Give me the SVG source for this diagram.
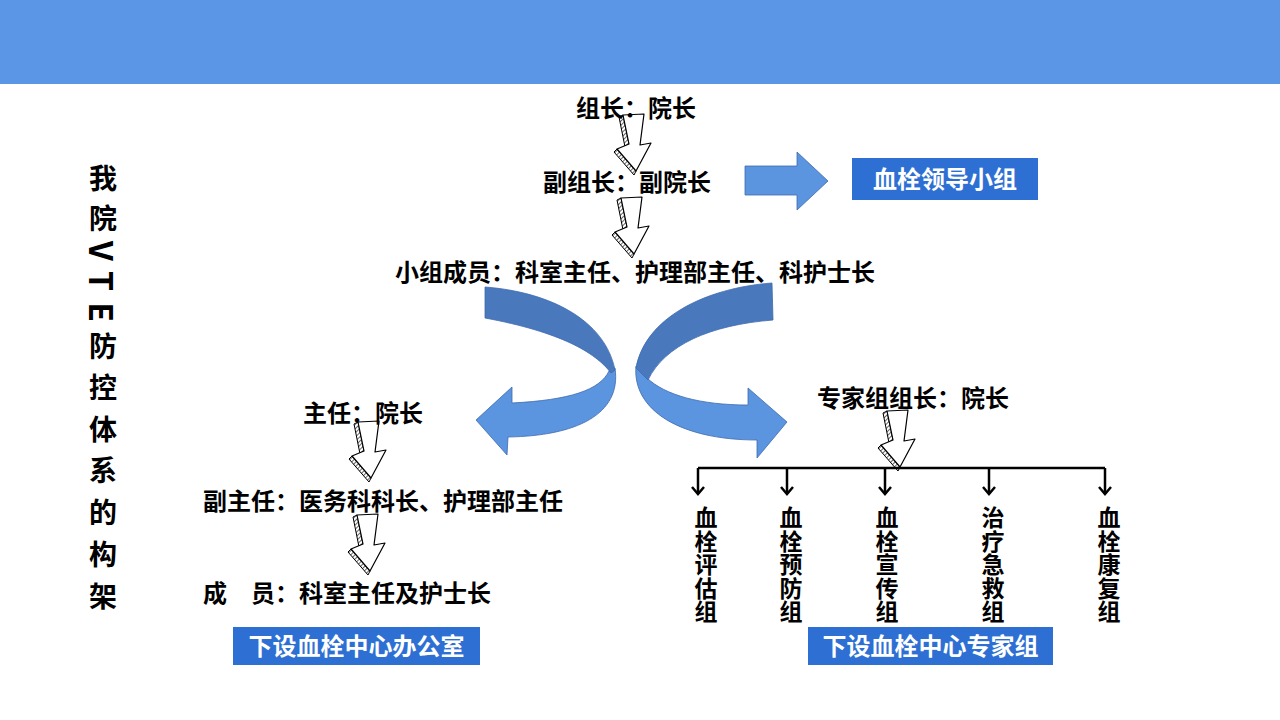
<svg xmlns="http://www.w3.org/2000/svg" width="1280" height="720" viewBox="0 0 1280 720">
<style>
.t{font-family:"Noto Sans CJK SC","Noto Sans",sans-serif;font-weight:700;font-size:24px;fill:#000}
.v{font-family:"Noto Sans CJK SC","Noto Sans",sans-serif;font-weight:700;font-size:23px;fill:#000}
.tt{font-family:"Noto Sans CJK SC","Noto Sans",sans-serif;font-weight:700;font-size:28px;fill:#000}
.tl{font-family:"Noto Sans CJK SC","Noto Sans",sans-serif;font-weight:700;font-size:32px;fill:#000}
.lbl{font-family:"Noto Sans CJK SC","Noto Sans",sans-serif;font-weight:700;font-size:24px;fill:#fff}
.box{fill:#2E6FD3}
.dark{fill:#4A78BC;stroke:#3E6AAE;stroke-width:0.8}
.light{fill:#5B94DF;stroke:#3E6AAE;stroke-width:0.8}
.conn{stroke:#000;stroke-width:2.5;fill:none}
</style>
<defs>
<pattern id="hatch" width="3" height="3" patternUnits="userSpaceOnUse" patternTransform="rotate(45)">
<rect width="3" height="3" fill="#fff"/><line x1="0" y1="0" x2="0" y2="3" stroke="#000" stroke-width="1.2"/>
</pattern>
<g id="harrow">
<path d="M0,1 L-4,3 L2,33 L6,30 Z" fill="url(#hatch)" stroke="#000" stroke-width="1"/>
<path d="M-6,35 L-9,38 L11,61 L13,57 Z" fill="url(#hatch)" stroke="#000" stroke-width="1"/>
<path d="M0,1 L21,0 L17,31 L28,29 L13,57 L-6,35 L6,30 Z" fill="#fff" stroke="#000" stroke-width="1.2" stroke-linejoin="round"/>
</g>
<marker id="chev" viewBox="-10 -8 12 16" markerWidth="12" markerHeight="16" refX="0" refY="0" orient="auto" markerUnits="userSpaceOnUse">
<path d="M-7,-6 L0,0 L-7,6" fill="none" stroke="#000" stroke-width="2.5"/>
</marker>
</defs>
<rect x="0" y="0" width="1280" height="720" fill="#fff"/>
<rect id="banner" x="0" y="0" width="1280" height="84" fill="#5B95E5"/>

<g id="title">
<text class="tt" x="103" y="189" text-anchor="middle">我</text>
<text class="tt" x="103" y="229" text-anchor="middle">院</text>
<text class="tl" transform="translate(103,251) rotate(90)" text-anchor="middle" dominant-baseline="central">V</text>
<text class="tl" transform="translate(103,281) rotate(90)" text-anchor="middle" dominant-baseline="central">T</text>
<text class="tl" transform="translate(103,312) rotate(90)" text-anchor="middle" dominant-baseline="central">E</text>
<text class="tt" x="103" y="357" text-anchor="middle">防</text>
<text class="tt" x="103" y="398" text-anchor="middle">控</text>
<text class="tt" x="103" y="440" text-anchor="middle">体</text>
<text class="tt" x="103" y="481" text-anchor="middle">系</text>
<text class="tt" x="103" y="523" text-anchor="middle">的</text>
<text class="tt" x="103" y="565" text-anchor="middle">构</text>
<text class="tt" x="103" y="607" text-anchor="middle">架</text>
</g>

<g id="connectors">
<use href="#harrow" x="623" y="114"/>
<use href="#harrow" x="621" y="197"/>
<use href="#harrow" x="358" y="421"/>
<use href="#harrow" x="357" y="514"/>
<use href="#harrow" x="887" y="410"/>
<path d="M745,166 L797,166 L797,152 L828,181 L797,210 L797,195 L745,195 Z" fill="#5B94DF" stroke="#3E6AAE" stroke-width="0.8"/>
<path class="light" d="M609,371 C600,390 570,400 512,403 L512,387 L476,420 L507,455 L508,437 C575,436 622,415 615,368 Z"/>
<path class="dark" d="M485,287 C550,292 605,320 615,370 L611,373 C595,352 560,332 485,318 Z"/>
<path class="light" d="M636,366 C632,410 680,440 757,440 L757,458 L787,422 L748,388 L748,405 C700,405 665,395 647,378 Z"/>
<path class="dark" d="M772,283 C705,288 645,318 636,368 L648,380 C665,345 710,325 773,320 Z"/>
<path class="conn" d="M698,468 L1105,468"/>
<path class="conn" d="M698,468 L698,494" marker-end="url(#chev)"/>
<path class="conn" d="M787,468 L787,494" marker-end="url(#chev)"/>
<path class="conn" d="M885,468 L885,494" marker-end="url(#chev)"/>
<path class="conn" d="M989,468 L989,494" marker-end="url(#chev)"/>
<path class="conn" d="M1105,468 L1105,494" marker-end="url(#chev)"/>
</g>

<g id="n-leader"><text class="t" x="576" y="117">组长：院长</text></g>
<g id="n-vice"><text class="t" x="543" y="191">副组长：副院长</text></g>
<g id="n-members"><text class="t" x="395" y="281">小组成员：科室主任、护理部主任、科护士长</text></g>
<g id="n-leadgroup"><rect class="box" x="852" y="158" width="186" height="42"/><text class="lbl" x="945" y="188" text-anchor="middle">血栓领导小组</text></g>

<g id="n-director"><text class="t" x="303" y="422">主任：院长</text></g>
<g id="n-vicedirector"><text class="t" x="203" y="510">副主任：医务科科长、护理部主任</text></g>
<g id="n-staff"><text class="t" x="203" y="602">成　员：科室主任及护士长</text></g>
<g id="n-office"><rect class="box" x="233" y="627" width="247" height="38"/><text class="lbl" x="356.5" y="655" text-anchor="middle">下设血栓中心办公室</text></g>

<g id="n-expertlead"><text class="t" x="817" y="407">专家组组长：院长</text></g>
<g id="n-expert"><rect class="box" x="808" y="627" width="245" height="38"/><text class="lbl" x="930.5" y="655" text-anchor="middle">下设血栓中心专家组</text></g>

<g id="n-g1"><text class="v" text-anchor="middle"><tspan x="706" y="526">血</tspan><tspan x="706" y="549.5">栓</tspan><tspan x="706" y="573">评</tspan><tspan x="706" y="596.5">估</tspan><tspan x="706" y="620">组</tspan></text></g>
<g id="n-g2"><text class="v" text-anchor="middle"><tspan x="791" y="526">血</tspan><tspan x="791" y="549.5">栓</tspan><tspan x="791" y="573">预</tspan><tspan x="791" y="596.5">防</tspan><tspan x="791" y="620">组</tspan></text></g>
<g id="n-g3"><text class="v" text-anchor="middle"><tspan x="887" y="526">血</tspan><tspan x="887" y="549.5">栓</tspan><tspan x="887" y="573">宣</tspan><tspan x="887" y="596.5">传</tspan><tspan x="887" y="620">组</tspan></text></g>
<g id="n-g4"><text class="v" text-anchor="middle"><tspan x="993" y="526">治</tspan><tspan x="993" y="549.5">疗</tspan><tspan x="993" y="573">急</tspan><tspan x="993" y="596.5">救</tspan><tspan x="993" y="620">组</tspan></text></g>
<g id="n-g5"><text class="v" text-anchor="middle"><tspan x="1109" y="526">血</tspan><tspan x="1109" y="549.5">栓</tspan><tspan x="1109" y="573">康</tspan><tspan x="1109" y="596.5">复</tspan><tspan x="1109" y="620">组</tspan></text></g>
</svg>
